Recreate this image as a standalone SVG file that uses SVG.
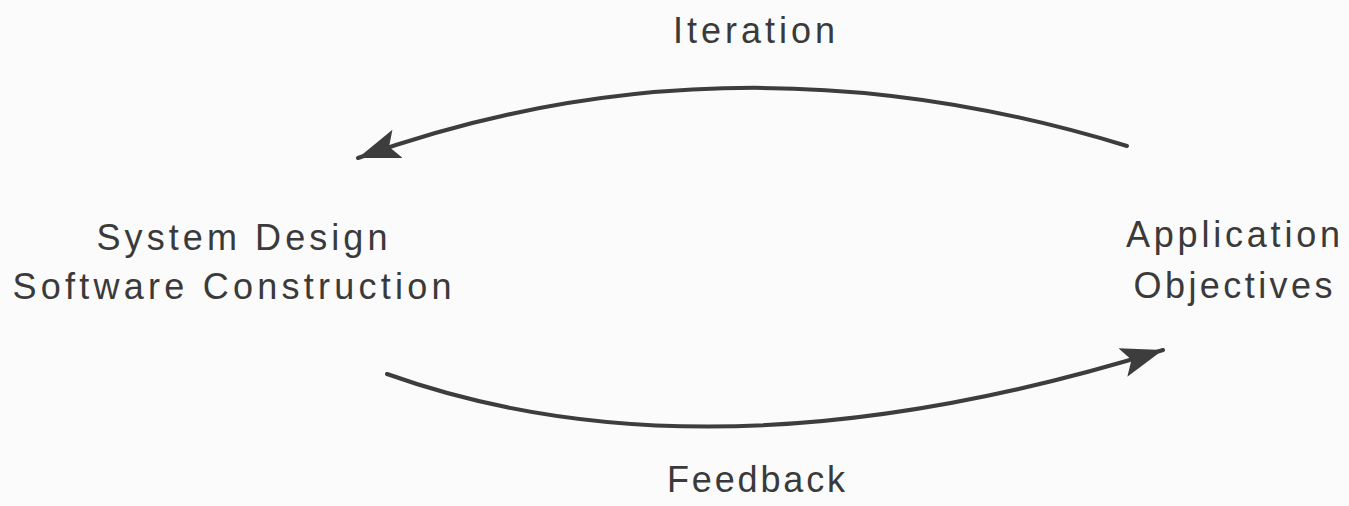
<svg xmlns="http://www.w3.org/2000/svg" width="1349" height="506" viewBox="0 0 1349 506">
<style>
.lbl{font-family:"Liberation Sans","DejaVu Sans",sans-serif;font-size:36px;fill:#3a3a3a;text-anchor:middle}
.arc{fill:none;stroke:#3d3d3d;stroke-width:4;stroke-linecap:round}
</style>
<defs>
<marker id="ah" markerUnits="userSpaceOnUse" markerWidth="44" markerHeight="44" viewBox="0 0 44 34" refX="42" refY="17" orient="auto">
<path d="M0,2 L42,17 L0,32 L9,17 Z" fill="#3d3d3d"/>
</marker>
</defs>
<rect width="1349" height="506" fill="#fcfbfb"/>
<g id="connectors">
<path class="arc" d="M1127,146 Q730,24 358,158" marker-end="url(#ah)"/>
<path class="arc" d="M387,374 Q712,490 1163,350" marker-end="url(#ah)"/>
</g>
<g id="node-iteration"><text class="lbl" x="754" y="43" textLength="162" lengthAdjust="spacing">Iteration</text></g>
<g id="node-system">
<text class="lbl" x="242" y="250" textLength="291" lengthAdjust="spacing">System Design</text>
<text class="lbl" x="232" y="299" textLength="439" lengthAdjust="spacing">Software Construction</text>
</g>
<g id="node-application">
<text class="lbl" x="1233" y="247" textLength="214" lengthAdjust="spacing">Application</text>
<text class="lbl" x="1233" y="298" textLength="199" lengthAdjust="spacing">Objectives</text>
</g>
<g id="node-feedback"><text class="lbl" x="756" y="492" textLength="178" lengthAdjust="spacing">Feedback</text></g>
</svg>
